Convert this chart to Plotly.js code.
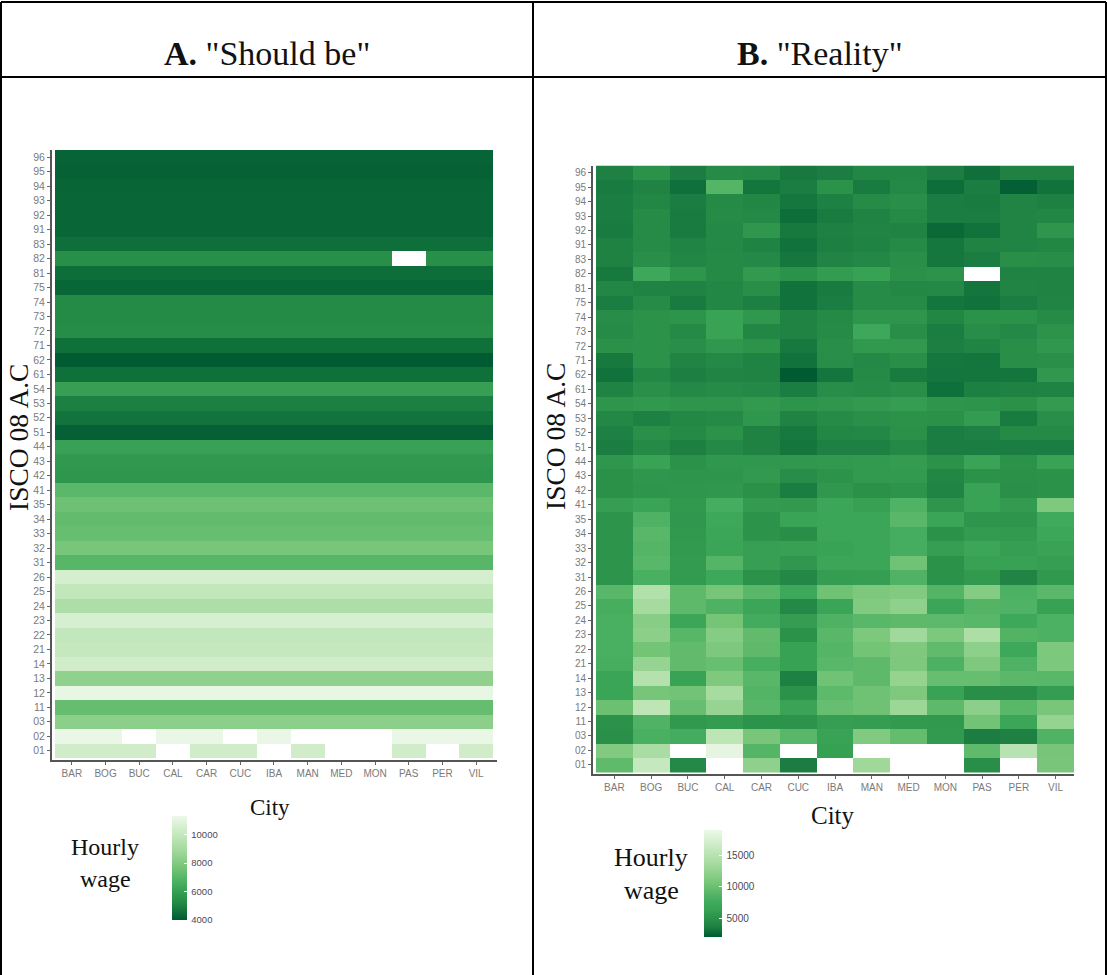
<!DOCTYPE html>
<html>
<head>
<meta charset="utf-8">
<script src="https://cdn.plot.ly/plotly-3.0.1.min.js"></script>
<style>html,body{margin:0;padding:0;background:#fff}#chart{width:1107px;height:975px}</style>
</head>
<body>
<div id="chart"></div>
<script>
const cities = ["BAR","BOG","BUC","CAL","CAR","CUC","IBA","MAN","MED","MON","PAS","PER","VIL"];
const occupations = ["01","02","03","11","12","13","14","21","22","23","24","25","26","31","32","33","34","35","41","42","43","44","51","52","53","54","61","62","71","72","73","74","75","81","82","83","91","92","93","94","95","96"];

// Panel A: one estimated wage per occupation, same order as occupations
const shouldBeWage = [10400,11250,8300,7300,11200,8400,10400,10050,10000,10600,9300,9950,10550,6950,7750,7350,7250,7500,7050,5650,5700,6050,4130,4600,4900,5950,4500,3980,4500,5250,5200,5200,4250,4450,5350,4480,4250,4250,4250,4220,4150,4200];
const shouldBeMissing = {"01":["CAL","IBA","MED","MON","PER"],"02":["BUC","CUC","MAN","MED","MON"],"82":["PAS"]};

// Panel B: one row per occupation, columns in the order of cities
const r01=[9400,16000,4300,null,12200,3500,null,13200,null,null,4700,null,10800];
const r02=[11300,14000,null,18500,8800,null,6300,null,null,null,9400,15000,10700];
const r03=[4800,8100,7800,15400,10800,9000,6500,11300,9600,5700,3500,3700,8500];
const r11=[5000,8500,5600,5900,5100,5100,6100,6000,5700,5600,10400,7000,12500];
const r12=[10000,15400,9800,12700,8900,6700,9800,10200,13000,9300,12000,9000,10800];
const r13=[6800,10700,10400,13800,8700,5000,9200,10200,11200,6500,4700,4700,6000];
const r14=[6800,14800,6600,11200,9000,3700,10300,9300,12500,9800,9800,9100,9000];
const r21=[8000,12700,9500,9900,8000,6400,9000,9300,11000,8300,11200,8400,11000];
const r22=[8100,10500,9500,11000,9300,6400,8800,10500,11200,9500,12100,7200,11000];
const r23=[8100,12000,8900,11600,9500,5000,9000,11000,13300,11000,14200,8600,8300];
const r24=[8100,11700,7000,10600,7700,6000,8400,9000,9300,9200,9000,7200,8300];
const r25=[8000,13700,9300,8400,7000,4300,6800,11300,12200,7000,8700,8500,6400];
const r26=[9000,14500,9300,10700,9000,7300,10300,11100,11300,8700,11500,8300,9100];
const r31=[5200,8100,5800,7200,5000,4200,6000,6100,8500,5000,5700,4000,5600];
const r32=[5200,9000,5800,8800,6200,5500,6900,6900,10300,5000,6400,6400,6100];
const r33=[5200,8800,5700,6800,6200,6300,6500,6900,7900,6100,7000,6100,6500];
const r34=[5200,9000,5600,7000,5100,4700,6900,6900,7900,5000,5800,5700,7100];
const r35=[5200,8400,5500,7200,5100,6700,6900,6900,9000,6800,5300,5300,7500];
const r41=[6100,6700,5600,7900,5800,5700,7000,6300,8500,5300,6500,5800,11200];
const r42=[4900,5300,5400,5500,4900,3500,5500,4900,5200,4000,6500,4800,5000];
const r43=[4900,5400,5300,5300,5700,4600,5100,5700,5700,4100,5000,4900,5000];
const r44=[5400,6500,5000,5500,5500,5500,5600,5700,5900,5000,6700,5000,6600];
const r51=[3500,4400,3600,4300,3800,3100,3700,3700,4300,3500,3500,3500,3500];
const r52=[3700,4800,4400,5000,3800,3300,4100,4200,4900,3500,3700,4400,4400];
const r53=[4200,3700,4200,4400,5400,3900,4500,4800,5000,4900,5900,3400,4700];
const r54=[5300,5600,5300,5300,5700,5200,5400,5700,6000,5300,5200,4900,5800];
const r61=[3900,4800,4300,4500,4300,3500,4600,4500,4700,2900,3600,3800,3900];
const r62=[3000,4200,3600,4000,3900,2000,3100,4400,3400,3100,3100,3100,5500];
const r71=[3300,5000,4000,4300,3900,3000,4600,4300,4700,3200,3100,4700,4800];
const r72=[4900,5000,4700,5500,5100,3300,4700,5600,5600,3600,4000,4700,5500];
const r73=[4500,5000,4400,6500,4100,3900,4500,7200,4700,3500,4600,4300,5100];
const r74=[4600,5000,5200,6500,5500,3900,4400,5300,5300,4100,5000,5000,4500];
const r75=[3500,4500,3400,4100,3600,3000,3500,4500,4500,3100,3000,3500,4000];
const r81=[4100,3900,3900,4100,4700,3000,3400,4500,4200,4300,3100,4000,3900];
const r82=[3300,7300,5300,4400,5700,5000,5900,6400,4900,5100,null,3900,3900];
const r83=[3800,4700,4100,4400,4300,3200,4000,4200,4700,3200,3500,4700,4600];
const r91=[3800,4500,4000,4300,3900,3000,3600,3900,4400,3200,3900,4000,4100];
const r92=[3400,4500,3400,4300,5400,3300,3700,4000,3900,2600,3000,4000,5300];
const r93=[3500,4500,3400,4500,4300,2800,3400,3900,4400,3500,3500,4000,4100];
const r94=[3500,4100,3500,4400,4100,3200,3700,4500,4700,3500,3400,4000,3700];
const r95=[3400,3900,2900,8800,3100,3500,5000,3400,4300,2800,3500,2200,3000];
const r96=[3700,5000,3500,4500,4300,3300,3500,4100,4100,3500,2900,3800,3800];
const realityRows=[r01,r02,r03,r11,r12,r13,r14,r21,r22,r23,r24,r25,r26,r31,r32,r33,r34,r35,r41,r42,r43,r44,r51,r52,r53,r54,r61,r62,r71,r72,r73,r74,r75,r81,r82,r83,r91,r92,r93,r94,r95,r96];

const shouldBeRows = occupations.map((occ,i)=>cities.map(c=>(shouldBeMissing[occ]||[]).includes(c)?null:shouldBeWage[i]));

const W=1107,H=975;
const px=x=>x/W, py=y=>1-y/H;
const greens=[[0,"#005a32"],[1/6,"#238b45"],[2/6,"#41ab5d"],[3/6,"#74c476"],[4/6,"#a1d99b"],[5/6,"#c7e9c0"],[1,"#edf8e9"]];
const greensB=[[0,"#005a32"],[0.05,"#0f6f3a"],[0.09,"#1c7e41"],[1/6,"#2a9049"],[0.25,"#36a053"],[2/6,"#41ab5d"],[3/6,"#74c476"],[4/6,"#a1d99b"],[5/6,"#c7e9c0"],[1,"#edf8e9"]];
const serif='"Liberation Serif","DejaVu Serif",serif';
const sans='"Liberation Sans",sans-serif';

function bar(x,yBottom,len,thick,ticks,font){
  return {x:px(x),xanchor:"left",xpad:0,y:py(yBottom),yanchor:"bottom",ypad:0,
    lenmode:"pixels",len:len,thicknessmode:"pixels",thickness:thick,outlinewidth:0,
    tickmode:"array",tickvals:ticks,ticktext:ticks.map(t=>"\u2009"+t),ticks:"inside",ticklen:3,tickcolor:"#ffffff",tickwidth:1,
    tickfont:font};
}
const traces=[
 {type:"heatmap",x:cities,y:occupations,z:shouldBeRows,xaxis:"x",yaxis:"y",colorscale:greens,zmin:3950,zmax:11350,hoverongaps:false,
  colorbar:bar(172,920,104,15,[4000,6000,8000,10000],{family:sans,size:9.5,color:"#4d4856"})},
 {type:"heatmap",x:cities,y:occupations,z:realityRows,xaxis:"x2",yaxis:"y2",colorscale:greensB,zmin:2000,zmax:19000,hoverongaps:false,
  colorbar:bar(704,937,107,18,[5000,10000,15000],{family:sans,size:10,color:"#4d4856"})}
];
function xAxis(l,r,range,font,anchor){
  return {domain:[px(l),px(r)],anchor:anchor,type:"category",categoryorder:"array",categoryarray:cities,range:range,
    showgrid:false,zeroline:false,showline:true,linecolor:"#555555",linewidth:2,ticks:"outside",ticklen:3,tickcolor:"#666666",tickwidth:1,tickfont:font};
}
function yAxis(t,b,range,font,anchor){
  return {domain:[py(b),py(t)],anchor:anchor,type:"category",categoryorder:"array",categoryarray:occupations,range:range,
    showgrid:false,zeroline:false,showline:true,linecolor:"#555555",linewidth:2,ticks:"outside",ticklen:3,tickcolor:"#666666",tickwidth:1,tickfont:font,ticklabelshift:-1.5};
}
const lines=[[1,2,1,975],[533,2,533,975],[1106,2,1106,975],[1,2,1106,2],[1,77,1106,77]];
function label(text,x,y,size,angle){
  return {text:text,x:px(x),y:py(y),xref:"paper",yref:"paper",xanchor:"center",yanchor:"middle",showarrow:false,
    textangle:angle||0,font:{family:serif,size:size,color:"#111111"}};
}
const layout={
  width:W,height:H,margin:{l:0,r:0,t:0,b:0,pad:0},paper_bgcolor:"#fff",plot_bgcolor:"#fff",showlegend:false,
  xaxis:xAxis(52,497,[-0.589,12.619],{family:sans,size:10,color:"#7a7a7a"},"y"),
  yaxis:yAxis(150,760,[-0.638,41.5],{family:sans,size:10.5,color:"#7a7a7a"},"x"),
  xaxis2:xAxis(593,1074,[-0.582,12.5],{family:sans,size:10,color:"#7a7a7a"},"y2"),
  yaxis2:yAxis(165.5,774,[-0.638,41.5],{family:sans,size:10,color:"#7a7a7a"},"x2"),
  shapes:lines.map(l=>({type:"line",xref:"paper",yref:"paper",x0:px(l[0]),y0:py(l[1]),x1:px(l[2]),y1:py(l[3]),line:{color:"#000",width:2},layer:"below"})),
  annotations:[
    label('<b>A.</b> "Should be"',267,54,34),
    label('<b>B.</b> "Reality"',820,54,34),
    label("ISCO 08 A.C",18,438,27.5,-90),
    label("ISCO 08 A.C",555,437,27.5,-90),
    label("City",270,807,23),
    label("City",833,815,25),
    label("Hourly",105,847,24),
    label("wage",105,879,24),
    label("Hourly",651,857,26),
    label("wage",651,890,26)
  ]
};
Plotly.newPlot("chart",traces,layout,{displayModeBar:false,staticPlot:true});
</script>
</body>
</html>
